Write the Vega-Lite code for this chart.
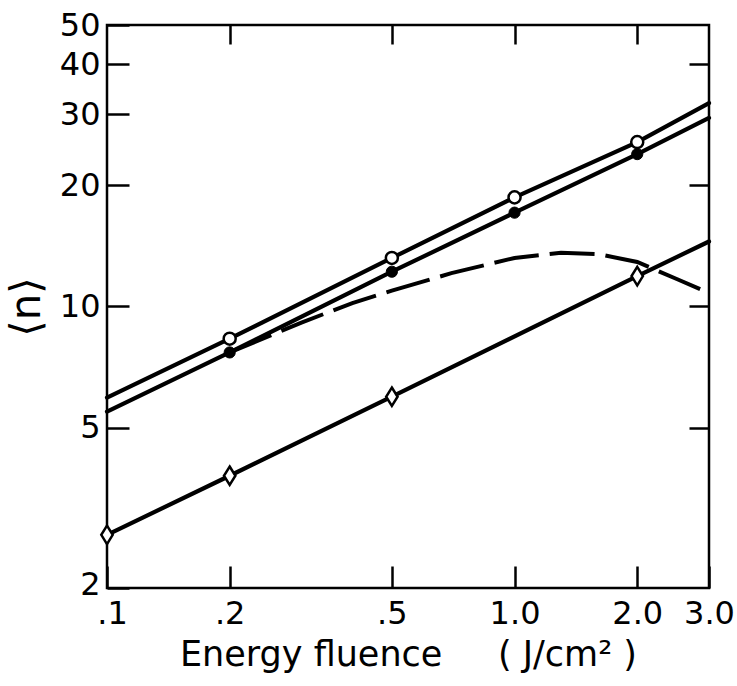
{
  "$schema": "https://vega.github.io/schema/vega-lite/v6.json",
  "width": 602,
  "height": 563,
  "autosize": {"type": "none"},
  "padding": {"left": 107, "top": 25, "right": 28, "bottom": 98},
  "background": "white",
  "config": {
    "view": {"stroke": "black", "strokeWidth": 2.5},
    "axis": {
      "domain": false,
      "grid": false,
      "tickColor": "black",
      "tickWidth": 2.5,
      "labelColor": "black",
      "labelFont": "DejaVu Sans",
      "labelFontSize": 32,
      "labelFlush": false,
      "labelOverlap": false,
      "labelBound": false,
      "titleColor": "black",
      "titleFont": "DejaVu Sans",
      "titleFontWeight": "normal",
      "titleFontSize": 35
    }
  },
  "data": {
    "values": [
      {"s": "open", "x": 0.1, "y": 5.94, "m": false},
      {"s": "open", "x": 0.2, "y": 8.32, "m": true},
      {"s": "open", "x": 0.5, "y": 13.2, "m": true},
      {"s": "open", "x": 1.0, "y": 18.66, "m": true},
      {"s": "open", "x": 2.0, "y": 25.6, "m": true},
      {"s": "open", "x": 3.0, "y": 32.0, "m": false},
      {"s": "filled", "x": 0.1, "y": 5.48, "m": false},
      {"s": "filled", "x": 0.2, "y": 7.69, "m": true},
      {"s": "filled", "x": 0.5, "y": 12.2, "m": true},
      {"s": "filled", "x": 1.0, "y": 17.1, "m": true},
      {"s": "filled", "x": 2.0, "y": 23.9, "m": true},
      {"s": "filled", "x": 3.0, "y": 29.4, "m": false},
      {"s": "diamond", "x": 0.1, "y": 2.71, "m": true},
      {"s": "diamond", "x": 0.2, "y": 3.8, "m": true},
      {"s": "diamond", "x": 0.5, "y": 5.97, "m": true},
      {"s": "diamond", "x": 2.0, "y": 11.9, "m": true},
      {"s": "diamond", "x": 3.0, "y": 14.5, "m": false},
      {"s": "dashed", "x": 0.2, "y": 7.69, "m": false},
      {"s": "dashed", "x": 0.3, "y": 9.12, "m": false},
      {"s": "dashed", "x": 0.4, "y": 10.2, "m": false},
      {"s": "dashed", "x": 0.5, "y": 10.95, "m": false},
      {"s": "dashed", "x": 0.7, "y": 12.1, "m": false},
      {"s": "dashed", "x": 1.0, "y": 13.2, "m": false},
      {"s": "dashed", "x": 1.3, "y": 13.6, "m": false},
      {"s": "dashed", "x": 1.6, "y": 13.5, "m": false},
      {"s": "dashed", "x": 2.0, "y": 12.9, "m": false},
      {"s": "dashed", "x": 2.5, "y": 11.7, "m": false},
      {"s": "dashed", "x": 3.0, "y": 10.8, "m": false}
    ]
  },
  "layer": [
    {
      "layer": [
        {
          "transform": [{"filter": "datum.s != 'dashed'"}],
          "mark": {"type": "line", "color": "black", "strokeCap": "round"},
          "encoding": {
            "x": {
              "field": "x", "type": "quantitative",
              "scale": {"type": "log", "domain": [0.1, 3], "nice": false},
              "axis": {
                "orient": "bottom",
                "values": [0.1, 0.2, 0.5, 1, 2, 3],
                "format": ".1f",
                "labelExpr": "datum.value < 1 ? substring(datum.label, 1) : datum.label",
                "labelOffset": {"condition": {"test": "datum.value < 0.15", "value": 5}, "value": 0},
                "tickSize": -22,
                "labelPadding": 32,
                "title": "Energy fluence\u00a0\u00a0\u00a0\u00a0\u00a0(\u00a0J/cm²\u00a0)",
                "titlePadding": 8
              }
            },
            "y": {
              "field": "y", "type": "quantitative",
              "scale": {"type": "log", "domain": [2, 50], "nice": false},
              "axis": {
                "orient": "left",
                "values": [2, 5, 10, 20, 30, 40, 50],
                "format": "d",
                "labelOffset": {"condition": {"test": "datum.value < 3", "value": -4}, "value": 0},
                "tickSize": -22,
                "labelPadding": 29,
                "title": "⟨n⟩",
                "titleFontSize": 42,
                "titlePadding": 11
              }
            },
            "detail": {"field": "s"},
            "strokeWidth": {
              "field": "s", "type": "nominal",
              "scale": {"domain": ["open", "filled", "diamond"], "range": [4.2, 4.2, 3.6]},
              "legend": null
            }
          }
        },
        {
          "transform": [{"filter": "datum.m && datum.s == 'open'"}],
          "mark": {"type": "point", "shape": "circle", "filled": true, "fill": "white", "stroke": "black", "strokeWidth": 2.5, "size": 145, "opacity": 1},
          "encoding": {
            "x": {"field": "x", "type": "quantitative"},
            "y": {"field": "y", "type": "quantitative"}
          }
        },
        {
          "transform": [{"filter": "datum.m && datum.s == 'filled'"}],
          "mark": {"type": "point", "shape": "circle", "filled": true, "fill": "black", "stroke": "black", "strokeWidth": 1, "size": 125, "opacity": 1},
          "encoding": {
            "x": {"field": "x", "type": "quantitative"},
            "y": {"field": "y", "type": "quantitative"}
          }
        },
        {
          "transform": [{"filter": "datum.m && datum.s == 'diamond'"}],
          "mark": {"type": "point", "shape": "M0,-1L0.62,0L0,1L-0.62,0Z", "filled": true, "fill": "white", "stroke": "black", "strokeWidth": 2.5, "size": 340, "opacity": 1},
          "encoding": {
            "x": {"field": "x", "type": "quantitative"},
            "y": {"field": "y", "type": "quantitative"}
          }
        }
      ]
    },
    {
      "transform": [{"filter": "datum.s == 'dashed'"}],
      "mark": {"type": "line", "color": "black", "strokeWidth": 4, "strokeDash": [45, 11]},
      "encoding": {
        "x": {
          "field": "x", "type": "quantitative",
          "scale": {"type": "log", "domain": [0.1, 3], "nice": false},
          "axis": {"orient": "top", "values": [0.2, 0.5, 1, 2], "labels": false, "tickSize": -19, "title": null}
        },
        "y": {
          "field": "y", "type": "quantitative",
          "scale": {"type": "log", "domain": [2, 50], "nice": false},
          "axis": {"orient": "right", "values": [5, 10, 20, 40], "labels": false, "tickSize": -20, "title": null}
        }
      }
    }
  ],
  "resolve": {"scale": {"x": "independent", "y": "independent"}}
}
